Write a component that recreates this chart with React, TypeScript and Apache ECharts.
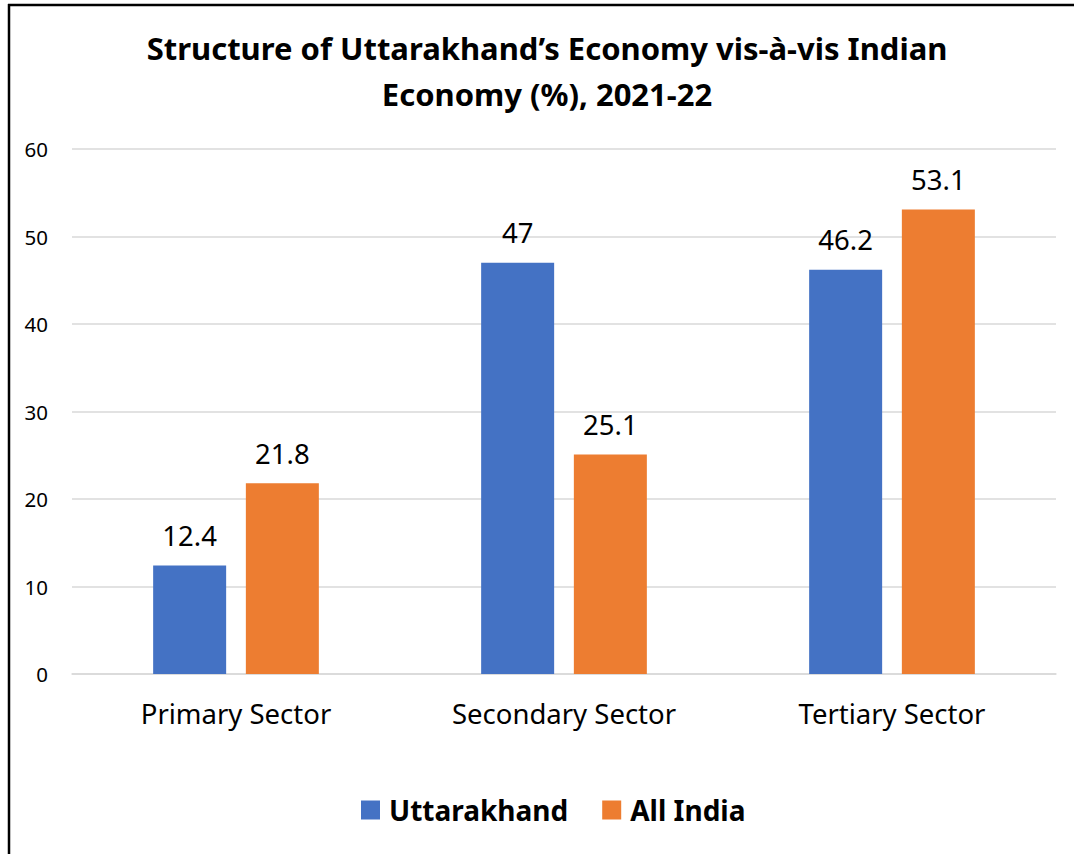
import React, { useEffect, useRef } from "react";
import * as echarts from "echarts";

const titleLines = ["Structure of Uttarakhand’s Economy vis-à-vis Indian", "Economy (%), 2021-22"];
const categories = ["Primary Sector", "Secondary Sector", "Tertiary Sector"];
const seriesNames = ["Uttarakhand", "All India"];
const uttarakhand = [12.4, 47, 46.2];
const allIndia = [21.8, 25.1, 53.1];
const yTicks = { min: 0, max: 60, interval: 10 };

const FONT = "'Noto Sans', 'Open Sans', sans-serif";

export default function App() {
  const ref = useRef<HTMLDivElement>(null);
  useEffect(() => {
    document.body.style.margin = "0";
    const chart = echarts.init(ref.current!, null, { renderer: "svg" });
    chart.setOption({
      animation: false,
      backgroundColor: "#ffffff",
      textStyle: { fontFamily: FONT },
      graphic: [
        { type: "line", shape: { x1: 9, y1: 4, x2: 9, y2: 854 }, style: { stroke: "#000", lineWidth: 2.5 } },
        { type: "line", shape: { x1: 8, y1: 5, x2: 1074, y2: 5 }, style: { stroke: "#000", lineWidth: 2.5 } },
        {
          type: "text",
          x: 547,
          y: 48,
          style: {
            text: titleLines[0],
            font: `bold 31px ${FONT}`,
            fill: "#000",
            align: "center",
            verticalAlign: "middle",
          },
        },
        {
          type: "text",
          x: 547,
          y: 94,
          style: {
            text: titleLines[1],
            font: `bold 31px ${FONT}`,
            fill: "#000",
            align: "center",
            verticalAlign: "middle",
          },
        },
      ],
      legend: {
        left: 356,
        top: 791,
        icon: "rect",
        itemWidth: 19,
        itemHeight: 19,
        itemGap: 34,
        textStyle: { fontFamily: FONT, fontWeight: "bold", fontSize: 28, color: "#000", padding: [0, 0, 0, 4] },
        data: seriesNames,
      },
      grid: { left: 72, right: 18, top: 149, bottom: 180, containLabel: false },
      xAxis: {
        type: "category",
        data: categories,
        axisLine: { lineStyle: { color: "#d9d9d9", width: 1.5 } },
        axisTick: { show: false },
        axisLabel: { color: "#000", fontSize: 27.5, margin: 25, fontFamily: FONT },
      },
      yAxis: {
        type: "value",
        min: yTicks.min,
        max: yTicks.max,
        interval: yTicks.interval,
        axisLine: { show: false },
        axisTick: { show: false },
        splitLine: { lineStyle: { color: "#d9d9d9", width: 1.5 } },
        axisLabel: { color: "#000", fontSize: 20.5, margin: 24, fontFamily: FONT },
      },
      series: [
        {
          name: seriesNames[0],
          type: "bar",
          data: uttarakhand,
          barWidth: 73,
          barGap: "27%",
          itemStyle: { color: "#4472C4" },
          label: { show: true, position: "top", distance: 16, color: "#000", fontSize: 27.5, fontFamily: FONT },
        },
        {
          name: seriesNames[1],
          type: "bar",
          data: allIndia,
          barWidth: 73,
          barGap: "27%",
          itemStyle: { color: "#ED7D31" },
          label: { show: true, position: "top", distance: 16, color: "#000", fontSize: 27.5, fontFamily: FONT },
        },
      ],
    });
    return () => chart.dispose();
  }, []);
  return <div ref={ref} style={{ position: "fixed", left: 0, top: 0, width: 1074, height: 854 }} />;
}
